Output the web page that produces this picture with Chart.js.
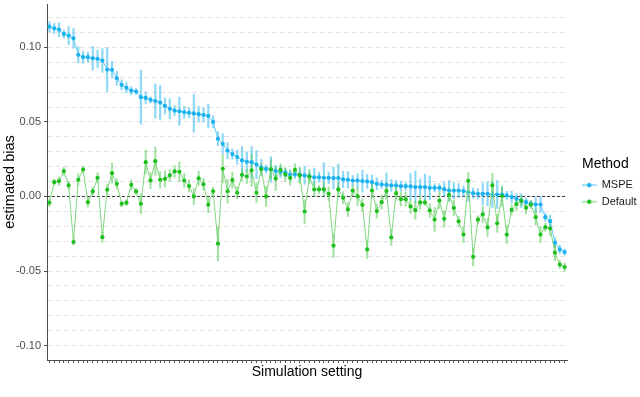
<!DOCTYPE html>
<html>
<head>
<meta charset="utf-8">
<script src="https://cdn.jsdelivr.net/npm/chart.js@4.4.1/dist/chart.umd.min.js"></script>
<style>
  html, body { margin: 0; padding: 0; background: #fff; }
  #wrap { width: 640px; height: 397px; position: relative; }
</style>
</head>
<body>
<div id="wrap"><canvas id="grafico"></canvas></div>
<script>
const seriesNames = ["MSPE", "Default"];
const settings = Array.from({ length: 108 }, (_, i) => String(i + 1));

const mspeBias = [
  0.1139, 0.1128, 0.1119, 0.1090, 0.1079, 0.1061, 0.0950, 0.0934, 0.0934, 0.0927,
  0.0923, 0.0912, 0.0851, 0.0850, 0.0793, 0.0749, 0.0729, 0.0710, 0.0704, 0.0666,
  0.0661, 0.0648, 0.0640, 0.0630, 0.0607, 0.0588, 0.0576, 0.0571, 0.0565, 0.0561,
  0.0557, 0.0552, 0.0547, 0.0540, 0.0500, 0.0387, 0.0353, 0.0308, 0.0284, 0.0264,
  0.0242, 0.0233, 0.0230, 0.0214, 0.0194, 0.0185, 0.0181, 0.0170, 0.0166, 0.0160,
  0.0145, 0.0148, 0.0145, 0.0141, 0.0136, 0.0129, 0.0129, 0.0125, 0.0125, 0.0123,
  0.0123, 0.0114, 0.0112, 0.0107, 0.0107, 0.0103, 0.0101, 0.0096, 0.0085, 0.0080,
  0.0078, 0.0074, 0.0074, 0.0069, 0.0069, 0.0067, 0.0063, 0.0063, 0.0063, 0.0058,
  0.0058, 0.0058, 0.0049, 0.0040, 0.0040, 0.0040, 0.0036, 0.0029, 0.0022, 0.0018,
  0.0018, 0.0018, 0.0013, 0.0013, 0.0013, 0.0007, -0.0004, -0.0016, -0.0027, -0.0038,
  -0.0049, -0.0054, -0.0054, -0.0139, -0.0166, -0.0310, -0.0355, -0.0373
];
const mspeErr = [
  0.0034, 0.0034, 0.0047, 0.0027, 0.0060, 0.0067, 0.0054, 0.0040, 0.0034, 0.0080,
  0.0060, 0.0080, 0.0147, 0.0054, 0.0047, 0.0034, 0.0034, 0.0027, 0.0020, 0.0181,
  0.0040, 0.0020, 0.0114, 0.0114, 0.0054, 0.0067, 0.0034, 0.0094, 0.0040, 0.0034,
  0.0127, 0.0054, 0.0047, 0.0080, 0.0040, 0.0047, 0.0067, 0.0054, 0.0034, 0.0047,
  0.0094, 0.0067, 0.0107, 0.0094, 0.0054, 0.0027, 0.0087, 0.0040, 0.0040, 0.0027,
  0.0034, 0.0027, 0.0040, 0.0060, 0.0027, 0.0060, 0.0034, 0.0100, 0.0040, 0.0074,
  0.0094, 0.0054, 0.0054, 0.0034, 0.0047, 0.0074, 0.0047, 0.0047, 0.0040, 0.0027,
  0.0080, 0.0040, 0.0034, 0.0034, 0.0027, 0.0087, 0.0107, 0.0054, 0.0087, 0.0080,
  0.0027, 0.0027, 0.0047, 0.0067, 0.0054, 0.0047, 0.0034, 0.0060, 0.0034, 0.0034,
  0.0074, 0.0080, 0.0087, 0.0094, 0.0047, 0.0027, 0.0040, 0.0034, 0.0047, 0.0027,
  0.0020, 0.0054, 0.0054, 0.0027, 0.0040, 0.0034, 0.0027, 0.0020
];

const defaultBias = [
  -0.0042, 0.0096, 0.0103, 0.0170, 0.0074, -0.0306, 0.0112, 0.0181, -0.0038, 0.0034,
  0.0125, -0.0273, 0.0045, 0.0156, 0.0085, -0.0049, -0.0042, 0.0078, 0.0034, -0.0049,
  0.0230, 0.0107, 0.0237, 0.0112, 0.0118, 0.0141, 0.0168, 0.0165, 0.0107, 0.0070,
  0.0000, 0.0122, 0.0082, -0.0055, 0.0035, -0.0317, 0.0186, 0.0035, 0.0110, 0.0025,
  0.0145, 0.0134, 0.0175, 0.0025, 0.0183, 0.0000, 0.0183, 0.0120, 0.0179, 0.0147,
  0.0123, 0.0179, 0.0141, -0.0101, 0.0134, 0.0047, 0.0047, 0.0047, 0.0018, -0.0330,
  0.0047, -0.0008, -0.0087, 0.0040, 0.0000, -0.0057, -0.0355, 0.0040, -0.0098, -0.0038,
  0.0036, -0.0275, 0.0022, -0.0018, -0.0018, -0.0067, -0.0092, -0.0040, -0.0040, -0.0094,
  -0.0155, -0.0027, -0.0150, 0.0010, -0.0077, -0.0167, -0.0255, 0.0105, -0.0405, -0.0156,
  -0.0120, -0.0208, 0.0074, -0.0180, 0.0003, -0.0256, -0.0090, -0.0052, -0.0029, -0.0076,
  -0.0054, -0.0139, -0.0256, -0.0206, -0.0215, -0.0377, -0.0457, -0.0474
];
const defaultErr = [
  0.0027, 0.0020, 0.0027, 0.0027, 0.0027, 0.0020, 0.0040, 0.0020, 0.0034, 0.0027,
  0.0034, 0.0034, 0.0034, 0.0067, 0.0034, 0.0020, 0.0020, 0.0034, 0.0020, 0.0067,
  0.0080, 0.0054, 0.0094, 0.0054, 0.0054, 0.0040, 0.0040, 0.0067, 0.0047, 0.0040,
  0.0054, 0.0047, 0.0040, 0.0054, 0.0027, 0.0114, 0.0094, 0.0080, 0.0054, 0.0040,
  0.0040, 0.0047, 0.0107, 0.0067, 0.0040, 0.0067, 0.0067, 0.0080, 0.0040, 0.0047,
  0.0047, 0.0040, 0.0054, 0.0080, 0.0047, 0.0047, 0.0027, 0.0047, 0.0047, 0.0080,
  0.0047, 0.0040, 0.0047, 0.0034, 0.0060, 0.0040, 0.0060, 0.0047, 0.0047, 0.0047,
  0.0054, 0.0054, 0.0047, 0.0047, 0.0047, 0.0047, 0.0060, 0.0047, 0.0020, 0.0047,
  0.0080, 0.0054, 0.0054, 0.0047, 0.0054, 0.0034, 0.0054, 0.0054, 0.0060, 0.0027,
  0.0054, 0.0060, 0.0080, 0.0060, 0.0067, 0.0060, 0.0034, 0.0040, 0.0034, 0.0040,
  0.0027, 0.0054, 0.0054, 0.0027, 0.0047, 0.0054, 0.0027, 0.0027
];

// y ticks: dashed grid every 0.01, labels only at the majors
const yGridValues = [-0.10, -0.09, -0.08, -0.07, -0.06, -0.05, -0.04, -0.03, -0.02, -0.01,
  0.00, 0.01, 0.02, 0.03, 0.04, 0.05, 0.06, 0.07, 0.08, 0.09, 0.10, 0.11, 0.12];
const yLabelValues = [-0.10, -0.05, 0.00, 0.05, 0.10];
const yLabels = ["-0.10", "-0.05", "0.00", "0.05", "0.10"];
const refLine = 0;

const colores = {
  mspePoint: "#19b2ef", mspeLine: "#62cbf3", mspeBar: "rgba(92,200,242,0.7)",
  defPoint: "#1ec01e", defLine: "#7fd87f", defBar: "rgba(88,200,88,0.55)"
};

function findLabel(v) {
  for (let i = 0; i < yLabelValues.length; i++) {
    if (Math.abs(yLabelValues[i] - v) < 1e-6) return yLabels[i];
  }
  return "";
}

// legend key: short line with a dot on it
function makeKey(lineColor, pointColor) {
  const c = document.createElement("canvas");
  c.width = 24;
  c.height = 8;
  const k = c.getContext("2d");
  k.strokeStyle = lineColor;
  k.lineWidth = 1.2;
  k.beginPath();
  k.moveTo(1.8, 4);
  k.lineTo(16.8, 4);
  k.stroke();
  k.fillStyle = pointColor;
  k.beginPath();
  k.arc(9.3, 4, 2.2, 0, Math.PI * 2);
  k.fill();
  return c;
}
const keyImages = [makeKey(colores.mspeLine, colores.mspePoint), makeKey(colores.defLine, colores.defPoint)];

const refLinePlugin = {
  id: "refLine",
  beforeDatasetsDraw(chart) {
    const ctx = chart.ctx;
    const y = chart.scales.y.getPixelForValue(refLine);
    ctx.save();
    ctx.setLineDash([3, 2]);
    ctx.strokeStyle = "#333333";
    ctx.lineWidth = 1;
    ctx.beginPath();
    ctx.moveTo(chart.chartArea.left, y);
    ctx.lineTo(chart.chartArea.right, y);
    ctx.stroke();
    ctx.restore();
  }
};

Chart.defaults.font.family = "'Liberation Sans', Arial, sans-serif";

const config = {
  type: "bar",
  data: {
    labels: settings,
    datasets: [
      {
        type: "line", label: seriesNames[0], data: mspeBias, order: 1,
        borderColor: colores.mspeLine, borderWidth: 1, tension: 0,
        pointRadius: 2.1, pointBorderWidth: 0, pointBackgroundColor: colores.mspePoint
      },
      {
        type: "line", label: seriesNames[1], data: defaultBias, order: 0,
        borderColor: colores.defLine, borderWidth: 1, tension: 0,
        pointRadius: 2.1, pointBorderWidth: 0, pointBackgroundColor: colores.defPoint
      },
      {
        type: "bar", label: "MSPE error", order: 3, grouped: false,
        data: mspeBias.map((v, i) => [v - mspeErr[i], v + mspeErr[i]]),
        backgroundColor: colores.mspeBar, barThickness: 1.5, borderWidth: 0
      },
      {
        type: "bar", label: "Default error", order: 2, grouped: false,
        data: defaultBias.map((v, i) => [v - defaultErr[i], v + defaultErr[i]]),
        backgroundColor: colores.defBar, barThickness: 1.4, borderWidth: 0
      }
    ]
  },
  options: {
    responsive: true,
    maintainAspectRatio: false,
    animation: false,
    layout: { padding: 0 },
    plugins: {
      tooltip: { enabled: false },
      legend: {
        position: "right",
        fullSize: false,
        maxWidth: 58,
        title: {
          display: true, text: "Method", position: "start", color: "#000",
          font: { size: 14 }, padding: { top: 6, bottom: 0 }
        },
        labels: {
          usePointStyle: true,
          pointStyleWidth: 8.6,
          padding: 5.6,
          color: "#1a1a1a",
          font: { size: 11 },
          generateLabels: () => seriesNames.map((name, i) => ({
            text: name, pointStyle: keyImages[i], fillStyle: "transparent",
            strokeStyle: "transparent", lineWidth: 0, hidden: false,
            datasetIndex: i, fontColor: "#1a1a1a"
          }))
        }
      }
    },
    scales: {
      x: {
        type: "category",
        offset: true,
        afterFit: (s) => { s.height = 37; s.paddingLeft = 0; s.paddingRight = 0; },
        ticks: { display: false },
        grid: { display: true, drawOnChartArea: false, drawTicks: true, tickLength: 3, offset: false, color: "#555555", tickWidth: 1 },
        border: { display: true, color: "#4d4d4d", width: 1 },
        title: {
          display: true, text: "Simulation setting", color: "#000",
          font: { size: 14 }, padding: { top: 0, bottom: 16 }
        }
      },
      y: {
        type: "linear",
        position: "left",
        min: -0.1097,
        max: 0.1291,
        afterFit: (s) => { s.width = 47; s.paddingTop = 0; s.paddingBottom = 0; },
        afterBuildTicks: (s) => { s.ticks = yGridValues.map((v) => ({ value: v })); },
        ticks: {
          autoSkip: false,
          padding: 3,
          color: "#4d4d4d",
          font: { size: 11 },
          callback: (v) => findLabel(v)
        },
        grid: {
          color: "#e4e4e4",
          lineWidth: 1,
          tickLength: 3,
          tickBorderDash: [],
          tickColor: (c) => (findLabel(c.tick.value) ? "#4d4d4d" : "rgba(0,0,0,0)")
        },
        border: { display: true, color: "#4d4d4d", width: 1, dash: [5, 3] },
        title: {
          display: true, text: "estimated bias", color: "#000",
          font: { size: 14.5 }, padding: { top: 1, bottom: 0 }
        }
      },
      y2: {
        type: "linear",
        position: "right",
        display: true,
        afterFit: (s) => { s.width = 15; s.paddingTop = 0; s.paddingBottom = 0; },
        grid: { display: false },
        ticks: { display: false },
        border: { display: false }
      }
    }
  },
  plugins: [refLinePlugin]
};

const myChart = new Chart(document.getElementById("grafico"), config);
</script>
</body>
</html>
